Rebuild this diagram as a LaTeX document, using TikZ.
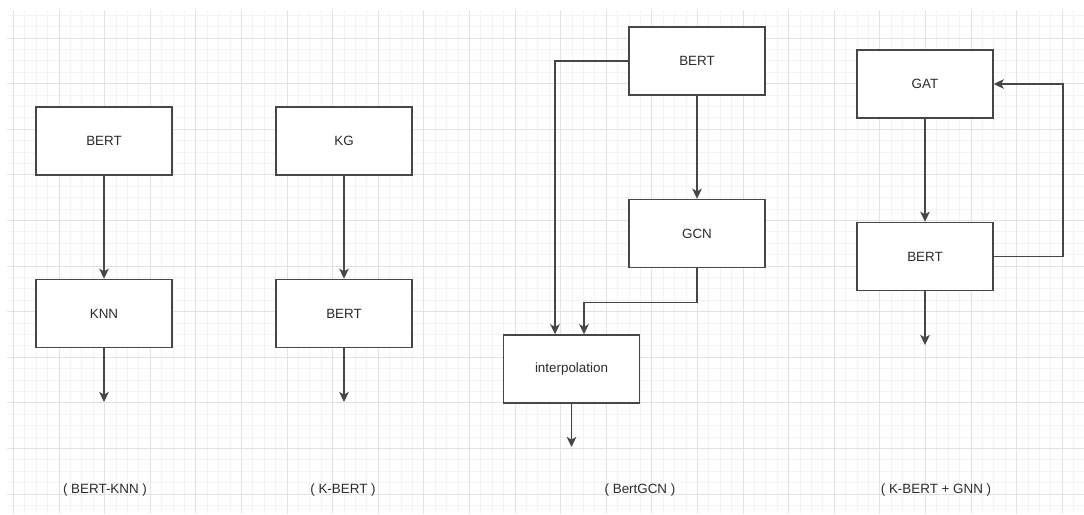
\documentclass[tikz,border=0pt]{standalone}
\usepackage{fontspec}
\setmainfont{Liberation Sans}
\usepackage{xcolor}
\usepackage{tikz}
\usetikzlibrary{positioning,arrows.meta}
\definecolor{boxline}{HTML}{464646}
\definecolor{txt}{HTML}{2B2B2B}
\definecolor{gridminor}{HTML}{F3F3F3}
\definecolor{gridmajor}{HTML}{E2E2E2}

\begin{document}
\begin{tikzpicture}[
        x=1pt, y=-1pt,
        node distance=103pt,
        block/.style={
            rectangle,
            draw=boxline,
            line width=1.5pt,
            fill=white,
            text=txt,
            align=center,
            minimum width=136pt,
            minimum height=68pt,
            inner sep=0pt,
            font=\fontsize{13.4}{16}\selectfont
        },
        caption/.style={
            text=txt,
            inner sep=0pt,
            font=\fontsize{13.4}{16}\selectfont
        },
        arrow/.style={
            -{Stealth[length=10pt,width=9.5pt,inset=2.5pt]},
            line width=1.5pt,
            draw=boxline
        }
    ]
        \useasboundingbox (0,0) rectangle (1084,514);
        \fill[white] (0,0) rectangle (1084,514);

        % Grid
        \foreach \k in {0,...,93}
            \draw[gridminor, line width=0.7pt] ({13.4+11.4*\k},10) -- (13.4+11.4*\k,514);
        \foreach \k in {0,...,43}
            \draw[gridminor, line width=0.7pt] (7,{15.2+11.4*\k}) -- (1084,{15.2+11.4*\k});
        \foreach \k in {0,...,23}
            \draw[gridmajor, line width=1pt] ({13.4+45.6*\k},10) -- ({13.4+45.6*\k},514);
        \foreach \k in {0,...,10}
            \draw[gridmajor, line width=1pt] (7,{38+45.6*\k}) -- (1084,{38+45.6*\k});

        % Column 1
        \node[block] (bert1) at (104,141) {BERT};
        \node[block] (knn1) [below=of bert1] {KNN};
        \coordinate (out1) at (104,402);

        % Column 2
        \node[block] (kg2) at (344,141) {KG};
        \node[block] (bert2) [below=of kg2] {BERT};
        \coordinate (out2) at (344,402);

        % Column 3
        \node[block] (bert3) at (697,61) {BERT};
        \node[block] (gcn3) [below=of bert3] {GCN};
        \node[block] (interp3) at (571.5,369) {interpolation};
        \coordinate (out3) at (571.5,447);

        % Column 4
        \node[block] (gat4) at (925,84) {GAT};
        \node[block] (bert4) [below=of gat4] {BERT};
        \coordinate (out4) at (925,345);

        % Captions
        \node[caption] (cap1) at (105,490) {( BERT-KNN )};
        \node[caption] (cap2) at (343,490) {( K-BERT )};
        \node[caption] (cap3) at (640,490) {( BertGCN )};
        \node[caption] (cap4) at (936,490) {( K-BERT + GNN )};

        % Edges Col 1
        \draw[arrow] (bert1) -- (knn1);
        \draw[arrow] (knn1) -- (out1);

        % Edges Col 2
        \draw[arrow] (kg2) -- (bert2);
        \draw[arrow] (bert2) -- (out2);

        % Edges Col 3
        \draw[arrow] (bert3) -- (gcn3);
        \draw[arrow] (bert3.west) -| ([xshift=-16.5pt]interp3.north);
        \draw[arrow] (gcn3.south) -- ++(0,34) -| ([xshift=12.5pt]interp3.north);
        \draw[arrow] (interp3) -- (out3);

        % Edges Col 4
        \draw[arrow] (gat4) -- (bert4);
        \draw[arrow] (bert4.east) -- ++(69,0) |- (gat4.east);
        \draw[arrow] (bert4) -- (out4);

    \end{tikzpicture}
\end{document}
